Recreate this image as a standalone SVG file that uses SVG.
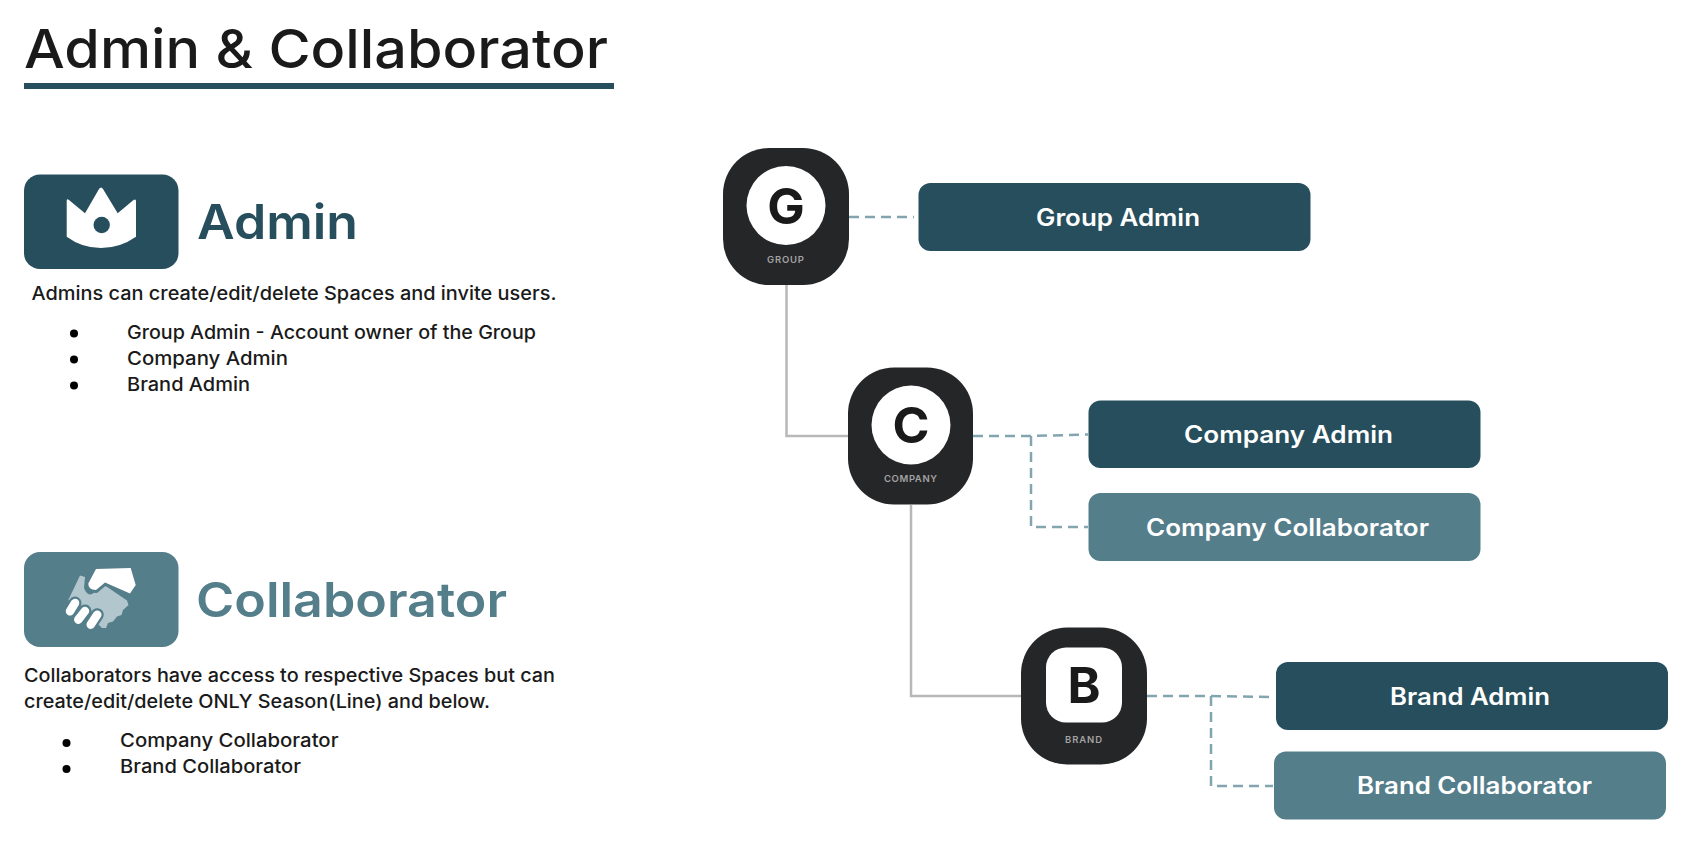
<svg xmlns="http://www.w3.org/2000/svg" width="1700" height="858" viewBox="0 0 1700 858">
<style>
text{font-family:"Inter","Liberation Sans",sans-serif;fill:#1a1a1a}
.body{font-size:18.5px;font-weight:450}
.h{font-size:48px;font-weight:600}
.role{font-size:24px;font-weight:600;fill:#fff}
.tag{font-size:9.500px;font-weight:600;fill:#a3a3a3;letter-spacing:1px}
.let{font-family:"Inter","Liberation Sans",sans-serif;font-weight:700;font-size:50px;text-anchor:middle;fill:#1a1a1a}
.node{fill:#252628}
.dark{fill:#264e5c}
.teal{fill:#557e8b}
.solid{fill:none;stroke:#b8b8b8;stroke-width:2.500}
.dash{fill:none;stroke:#82a5b0;stroke-width:2.500;stroke-dasharray:10 6}
</style>
<rect width="1700" height="858" fill="#fff"/>
<g id="title">
<text x="24" y="68" font-size="54" font-weight="450" textLength="584" lengthAdjust="spacingAndGlyphs">Admin &amp; Collaborator</text>
<rect x="24" y="83" width="590" height="6" class="dark"/>
</g>
<g id="admin-section">
<rect x="24" y="174.500" width="154.500" height="94.500" rx="16" class="dark"/>
<path d="M66.7 200.500Q67 198.500 69 200L85 213.300L99 189Q101 186 103 189L117.700 213.300L133.500 200Q136 198.500 136 201V236.700Q120 248 101 248Q82 248 66.700 236.700Z" fill="#fff"/>
<circle cx="101.700" cy="225" r="8.200" fill="#264e5c"/>
<text x="197" y="239" class="h" style="fill:#264e5c" textLength="161" lengthAdjust="spacingAndGlyphs">Admin</text>
<text x="31.500" y="300" class="body" textLength="525" lengthAdjust="spacingAndGlyphs">Admins can create/edit/delete Spaces and invite users.</text>
<circle cx="74" cy="333.500" r="4"/><circle cx="74" cy="359.500" r="4"/><circle cx="74" cy="385.500" r="4"/>
<text x="127" y="339" class="body" textLength="409" lengthAdjust="spacingAndGlyphs">Group Admin - Account owner of the Group</text>
<text x="127" y="365" class="body" textLength="161" lengthAdjust="spacingAndGlyphs">Company Admin</text>
<text x="127" y="391" class="body" textLength="123" lengthAdjust="spacingAndGlyphs">Brand Admin</text>
</g>
<g id="collaborator-section">
<rect x="24" y="552" width="154.500" height="95" rx="16" class="teal"/>
<path d="M80 575.500L85 577L84 588Q87 596 92 594L105 585.500L127 600.500L128.500 605L123 610L121.500 615L117 616.500L113 621.500L108 623L106 628L102 628L95 621L68.300 600Z" fill="#b2c6cd"/>
<path d="M96 569L130.700 568L135.700 585L130 593.500L105 582.500L96 590Q88 589.500 88.300 583.500Z" fill="#fff" stroke="#557e8b" stroke-width="6" paint-order="stroke"/>
<path d="M75 603L70 611.300M85 611L78.300 619.700M97.300 614.700L90.700 624.700" fill="none" stroke="#557e8b" stroke-width="13" stroke-linecap="round"/>
<path d="M75 603L70 611.300M85 611L78.300 619.700M97.300 614.700L90.700 624.700" fill="none" stroke="#fff" stroke-width="8.500" stroke-linecap="round"/>
<text x="196" y="617" class="h" style="fill:#557e8b" textLength="311" lengthAdjust="spacingAndGlyphs">Collaborator</text>
<text x="24" y="682" class="body" textLength="531" lengthAdjust="spacingAndGlyphs">Collaborators have access to respective Spaces but can</text>
<text x="24" y="708" class="body" textLength="466" lengthAdjust="spacingAndGlyphs">create/edit/delete ONLY Season(Line) and below.</text>
<circle cx="66.500" cy="743" r="4"/><circle cx="66.500" cy="769" r="4"/>
<text x="120" y="747" class="body" textLength="218.500" lengthAdjust="spacingAndGlyphs">Company Collaborator</text>
<text x="120" y="773" class="body" textLength="181" lengthAdjust="spacingAndGlyphs">Brand Collaborator</text>
</g>
<g id="connectors">
<path class="solid" d="M786.500 285V436H849"/>
<path class="solid" d="M911 505V696H1021"/>
<path class="dash" d="M849 217H914"/>
<path class="dash" d="M973 436L1031 436L1088 434.500"/>
<path class="dash" d="M1031 436V527H1088"/>
<path class="dash" d="M1147 696L1211 696L1275 697"/>
<path class="dash" d="M1211 696V786H1273"/>
</g>
<g id="node-group">
<rect x="723" y="148" width="126" height="137" rx="46" class="node"/>
<circle cx="786" cy="205.500" r="39.500" fill="#fff"/>
<text x="786" y="223.500" class="let">G</text>
<text x="767" y="263" class="tag" textLength="38">GROUP</text>
</g>
<g id="node-company">
<rect x="848" y="367.500" width="125" height="137" rx="46" class="node"/>
<circle cx="911" cy="425" r="39.500" fill="#fff"/>
<text x="911" y="443" class="let">C</text>
<text x="884" y="482" class="tag" textLength="54">COMPANY</text>
</g>
<g id="node-brand">
<rect x="1021" y="627.500" width="126" height="137" rx="46" class="node"/>
<rect x="1046" y="647.500" width="76" height="75" rx="20" fill="#fff"/>
<text x="1084" y="703" class="let">B</text>
<text x="1065" y="742.500" class="tag" textLength="38">BRAND</text>
</g>
<g id="role-group-admin">
<rect x="918.500" y="183" width="392" height="68" rx="12" class="dark"/>
<text x="1036" y="226" class="role" textLength="164" lengthAdjust="spacingAndGlyphs">Group Admin</text>
</g>
<g id="role-company-admin">
<rect x="1088.500" y="400.500" width="392" height="67.500" rx="12" class="dark"/>
<text x="1184" y="443" class="role" textLength="209" lengthAdjust="spacingAndGlyphs">Company Admin</text>
</g>
<g id="role-company-collaborator">
<rect x="1088.500" y="493" width="392" height="68" rx="12" class="teal"/>
<text x="1146" y="535.500" class="role" textLength="283" lengthAdjust="spacingAndGlyphs">Company Collaborator</text>
</g>
<g id="role-brand-admin">
<rect x="1276" y="662" width="392" height="68" rx="12" class="dark"/>
<text x="1390" y="705" class="role" textLength="160" lengthAdjust="spacingAndGlyphs">Brand Admin</text>
</g>
<g id="role-brand-collaborator">
<rect x="1274" y="751.500" width="392" height="68" rx="12" class="teal"/>
<text x="1357" y="794" class="role" textLength="235" lengthAdjust="spacingAndGlyphs">Brand Collaborator</text>
</g>
</svg>
